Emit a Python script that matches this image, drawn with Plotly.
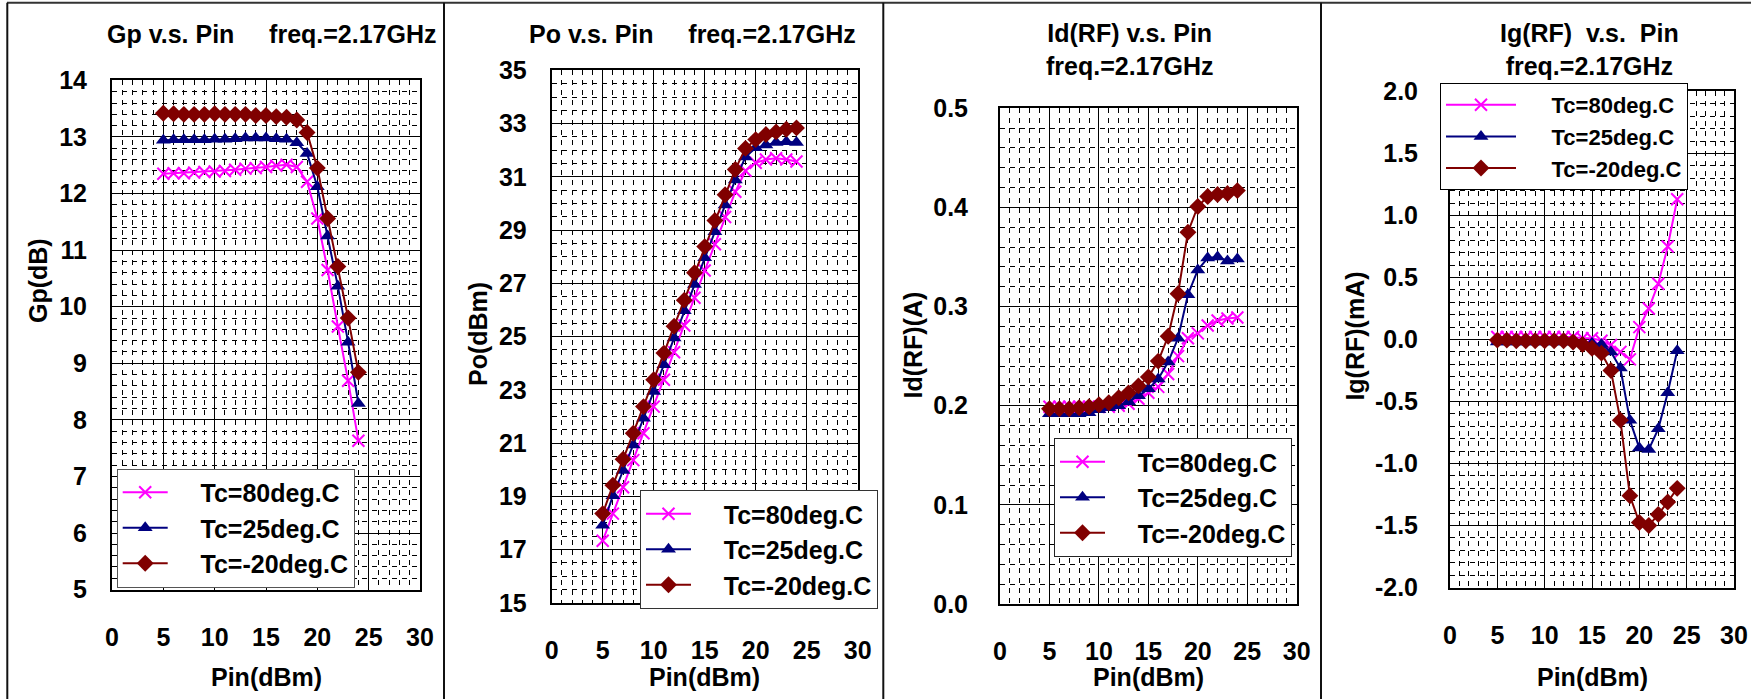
import plotly.graph_objects as go

W, H = 1751, 699
FONT = "Liberation Sans, Arial, Helvetica, sans-serif"
FS = 25

# ---------------- data ----------------
pin = list(range(5, 25))
series_names = ["Tc=80deg.C", "Tc=25deg.C", "Tc=-20deg.C"]

gp_80 = [12.35, 12.36, 12.36, 12.37, 12.38, 12.39, 12.40, 12.42, 12.44, 12.45,
         12.47, 12.49, 12.51, 12.47, 12.21, 11.56, 10.65, 9.65, 8.69, 7.63]
gp_25 = [12.94, 12.95, 12.95, 12.95, 12.95, 12.96, 12.96, 12.97, 12.98, 12.98,
         12.98, 12.97, 12.96, 12.90, 12.71, 12.12, 11.25, 10.36, 9.37, 8.29]
gp_m20 = [13.42, 13.41, 13.40, 13.40, 13.40, 13.41, 13.40, 13.40, 13.40, 13.38,
          13.38, 13.36, 13.35, 13.30, 13.08, 12.45, 11.56, 10.71, 9.80, 8.84]

po_80 = [17.33, 18.35, 19.34, 20.36, 21.37, 22.37, 23.38, 24.41, 25.42, 26.46,
         27.48, 28.47, 29.49, 30.44, 31.23, 31.53, 31.65, 31.70, 31.65, 31.58]
po_25 = [17.91, 19.02, 19.97, 20.93, 21.93, 22.94, 23.94, 24.95, 25.97, 26.96,
         27.96, 28.94, 29.94, 30.88, 31.75, 32.09, 32.20, 32.29, 32.32, 32.29]
po_m20 = [18.35, 19.42, 20.39, 21.37, 22.37, 23.38, 24.38, 25.39, 26.37, 27.40,
          28.38, 29.36, 30.33, 31.28, 32.07, 32.40, 32.59, 32.69, 32.79, 32.84]

id_80 = [0.199, 0.199, 0.199, 0.199, 0.199, 0.199, 0.199, 0.200, 0.202, 0.207,
         0.213, 0.219, 0.232, 0.250, 0.268, 0.273, 0.281, 0.286, 0.288, 0.289]
id_25 = [0.192, 0.192, 0.192, 0.192, 0.193, 0.196, 0.198, 0.200, 0.204, 0.210,
         0.217, 0.227, 0.244, 0.268, 0.312, 0.337, 0.349, 0.350, 0.346, 0.348]
id_m20 = [0.197, 0.197, 0.197, 0.198, 0.199, 0.201, 0.203, 0.208, 0.213, 0.220,
          0.229, 0.245, 0.270, 0.313, 0.375, 0.401, 0.411, 0.413, 0.414, 0.417]

ig_80 = [0.02, 0.02, 0.02, 0.02, 0.02, 0.02, 0.02, 0.02, 0.02, 0.01,
         0.01, -0.01, -0.045, -0.10, -0.16, 0.10, 0.25, 0.45, 0.75, 1.13]
ig_25 = [-0.02, -0.02, -0.02, -0.02, -0.02, -0.02, -0.02, -0.02, -0.02, -0.025,
         -0.03, -0.04, -0.10, -0.23, -0.65, -0.875, -0.886, -0.72, -0.43, -0.09]
ig_m20 = [-0.005, -0.005, -0.01, -0.01, -0.01, -0.01, -0.01, -0.01, -0.02, -0.04,
          -0.07, -0.11, -0.25, -0.65, -1.26, -1.475, -1.50, -1.41, -1.31, -1.20]

x_ticks = [0, 5, 10, 15, 20, 25, 30]
gp_ticks = [5, 6, 7, 8, 9, 10, 11, 12, 13, 14]
po_ticks = [15, 17, 19, 21, 23, 25, 27, 29, 31, 33, 35]
id_ticks = [0.0, 0.1, 0.2, 0.3, 0.4, 0.5]
id_labels = ["0.0", "0.1", "0.2", "0.3", "0.4", "0.5"]
ig_ticks = [-2.0, -1.5, -1.0, -0.5, 0.0, 0.5, 1.0, 1.5, 2.0]
ig_labels = ["-2.0", "-1.5", "-1.0", "-0.5", "0.0", "0.5", "1.0", "1.5", "2.0"]

panel_titles = ["Gp v.s. Pin\u00a0\u00a0\u00a0\u00a0\u00a0freq.=2.17GHz",
                "Po v.s. Pin\u00a0\u00a0\u00a0\u00a0\u00a0freq.=2.17GHz",
                "Id(RF) v.s. Pin<br>freq.=2.17GHz",
                "Ig(RF)\u00a0\u00a0v.s.\u00a0\u00a0Pin<br>freq.=2.17GHz"]
y_titles = ["Gp(dB)", "Po(dBm)", "Id(RF)(A)", "Ig(RF)(mA)"]
x_title = "Pin(dBm)"

# ---------------- styles ----------------
colors = ["#FF00FF", "#000080", "#800000"]
symbols = ["x-thin", "triangle-up", "diamond"]
msizes = [12, 13, 13]
leg_pad = ["\u00a0" * 4, "\u00a0" * 4, "\u00a0" * 4, "\u00a0" * 5]
leg_fs = [25, 25, 25, 22]
leg_itemwidth = [45, 45, 45, 70]


def px(x):
    return x / W


def py(y):
    return 1 - y / H


# plot rectangles in pixels: (left, right, top, bottom)
rects = [(112, 420, 80.4, 589.6),
         (551.7, 857.7, 70.4, 602.8),
         (1000, 1296.7, 108.3, 604),
         (1450, 1734, 91.4, 587.6)]

fig = go.Figure()

data_sets = [(gp_80, gp_25, gp_m20), (po_80, po_25, po_m20),
             (id_80, id_25, id_m20), (ig_80, ig_25, ig_m20)]
legend_ids = ["legend", "legend2", "legend3", "legend4"]

for p, ds in enumerate(data_sets):
    xa = "x" if p == 0 else f"x{p+1}"
    ya = "y" if p == 0 else f"y{p+1}"
    for s in range(3):
        mk = dict(symbol=symbols[s], size=msizes[s], color=colors[s])
        if symbols[s] == "x-thin":
            mk["line"] = dict(width=2, color=colors[s])
        fig.add_trace(go.Scatter(
            x=pin, y=ds[s], mode="lines+markers", name=leg_pad[p] + series_names[s],
            line=dict(color=colors[s], width=2), marker=mk,
            xaxis=xa, yaxis=ya, legend=legend_ids[p]))

y_ranges = [[5, 14], [15, 35], [0, 0.5], [-2, 2]]
y_minor = [0.2, 0.5, 0.02, 0.1]
y_tickvals = [gp_ticks, po_ticks, id_ticks, ig_ticks]
y_ticktext = [[str(v) for v in gp_ticks], [str(v) for v in po_ticks], id_labels, ig_labels]
y_ticklen = [18, 18, 25, 25]

tickfont = dict(family=FONT, size=FS, color="black", weight="bold")
layout = {}
for p in range(4):
    l, r, t, b = rects[p]
    suffix = "" if p == 0 else str(p + 1)
    layout["xaxis" + suffix] = dict(
        domain=[px(l), px(r)], anchor="y" + suffix, range=[0, 30],
        tickmode="array", tickvals=x_ticks, ticktext=[str(v) for v in x_ticks],
        showgrid=True, gridcolor="black", gridwidth=1,
        minor=dict(tickmode="linear", tick0=0, dtick=1, showgrid=True,
                   gridcolor="black", gridwidth=1, griddash="5px,5px"),
        showline=True, mirror=True, linecolor="black", linewidth=2,
        ticks="outside", ticklen=24, tickcolor="rgba(0,0,0,0)",
        tickfont=tickfont, zeroline=False, fixedrange=True, automargin=False)
    layout["yaxis" + suffix] = dict(
        domain=[py(b), py(t)], anchor="x" + suffix, range=y_ranges[p],
        tickmode="array", tickvals=y_tickvals[p], ticktext=y_ticktext[p],
        showgrid=True, gridcolor="black", gridwidth=1,
        minor=dict(tickmode="linear", tick0=y_ranges[p][0], dtick=y_minor[p], showgrid=True,
                   gridcolor="black", gridwidth=1, griddash="5px,5px"),
        showline=True, mirror=True, linecolor="black", linewidth=2,
        ticks="outside", ticklen=y_ticklen[p], tickcolor="rgba(0,0,0,0)",
        tickfont=tickfont, zeroline=False, fixedrange=True, automargin=False)

legend_pos = [(116.7, 468.5), (640, 490), (1054, 438), (1440, 83)]
legend_border = ["#555555", "#333333", "#222222", "#000000"]
for p in range(4):
    lx, ly = legend_pos[p]
    layout[legend_ids[p]] = dict(
        x=px(lx), y=py(ly), xanchor="left", yanchor="top",
        xref="paper", yref="paper",
        bgcolor="white", bordercolor=legend_border[p], borderwidth=1,
        font=dict(family=FONT, size=leg_fs[p], color="black", weight="bold"),
        itemwidth=leg_itemwidth[p], tracegroupgap=0)

annotations = []
title_pos = [(271.5, 34), (692.5, 34), (1129, 49), (1589, 49)]
for p in range(4):
    tx, ty = title_pos[p]
    annotations.append(dict(text=panel_titles[p], x=px(tx), y=py(ty), xref="paper", yref="paper",
                            xanchor="center", yanchor="middle", showarrow=False,
                            font=dict(family=FONT, size=FS, color="black", weight="bold")))
ytitle_pos = [(38, 281), (478, 334), (913, 345.5), (1355, 336.6)]
for p in range(4):
    tx, ty = ytitle_pos[p]
    annotations.append(dict(text=y_titles[p], x=px(tx), y=py(ty), xref="paper", yref="paper",
                            xanchor="center", yanchor="middle", textangle=-90, showarrow=False,
                            font=dict(family=FONT, size=FS, color="black", weight="bold")))
xtitle_x = [266, 704.7, 1148, 1592]
for p in range(4):
    annotations.append(dict(text=x_title, x=px(xtitle_x[p]), y=py(677), xref="paper", yref="paper",
                            xanchor="center", yanchor="middle", showarrow=False,
                            font=dict(family=FONT, size=FS, color="black", weight="bold")))

shapes = [dict(type="line", xref="paper", yref="paper", x0=px(7), x1=1, y0=py(2.7), y1=py(2.7),
               line=dict(color="#333333", width=2))]
for vx in [7.3, 444, 883.3, 1321]:
    shapes.append(dict(type="line", xref="paper", yref="paper", x0=px(vx), x1=px(vx),
                       y0=0, y1=py(2.7), line=dict(color="#111111", width=2)))

fig.update_layout(width=W, height=H, autosize=False, margin=dict(l=0, r=0, t=0, b=0, pad=0),
                  paper_bgcolor="white", plot_bgcolor="white",
                  showlegend=True, annotations=annotations, shapes=shapes, **layout)

fig.write_html("out.html",
               post_script="document.body.style.margin='0';document.body.style.padding='0';"
                           "document.body.style.overflow='hidden';")
